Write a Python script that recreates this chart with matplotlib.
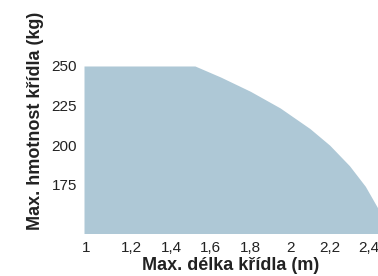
import matplotlib.pyplot as plt
import matplotlib.transforms as mtransforms

# wing length (m) vs max wing weight (kg)
length = [0.96, 1.0, 1.2, 1.4, 1.52, 1.65, 1.80, 1.95, 2.10, 2.20, 2.30, 2.38, 2.444, 2.47]
weight = [250, 250, 250, 250, 250, 243, 234, 223.5, 210.5, 200, 187, 174, 160, 145]

x_ticks = [1, 1.2, 1.4, 1.6, 1.8, 2, 2.2, 2.4]
x_labels = ['1', '1,2', '1,4', '1,6', '1,8', '2', '2,2', '2,4']
y_ticks = [175, 200, 225, 250]
y_labels = ['175', '200', '225', '250']

plt.rcParams['font.family'] = ['Liberation Sans', 'DejaVu Sans']

fig = plt.figure(figsize=(3.78, 2.76), dpi=100)
ax = fig.add_axes([84 / 378, 43 / 276, 294 / 378, 224 / 276])

ax.fill_between(length, weight, 140, color='#aec8d6', linewidth=0)

ax.set_xlim(0.96, 2.444)
ax.set_ylim(144.5, 286)
ax.set_xticks(x_ticks)
ax.set_xticklabels(x_labels, fontsize=11, color='#222222')
ax.set_yticks(y_ticks)
ax.set_yticklabels(y_labels, fontsize=11, color='#222222')
ax.tick_params(axis='x', length=0, pad=6)
ax.tick_params(axis='y', length=0, pad=5)
for spine in ax.spines.values():
   spine.set_visible(False)

# first x label sits a little left in the original
first = ax.get_xticklabels()[0]
first.set_transform(first.get_transform() + mtransforms.ScaledTranslation(-6 / 100, 0, fig.dpi_scale_trans))

ax.set_xlabel('Max. délka křídla (m)', fontsize=13, fontweight='bold', color='#222222', labelpad=1)
ax.set_ylabel('Max. hmotnost křídla (kg)', fontsize=13, fontweight='bold', color='#222222', labelpad=5.5)

fig.savefig('out.png', dpi=100)
